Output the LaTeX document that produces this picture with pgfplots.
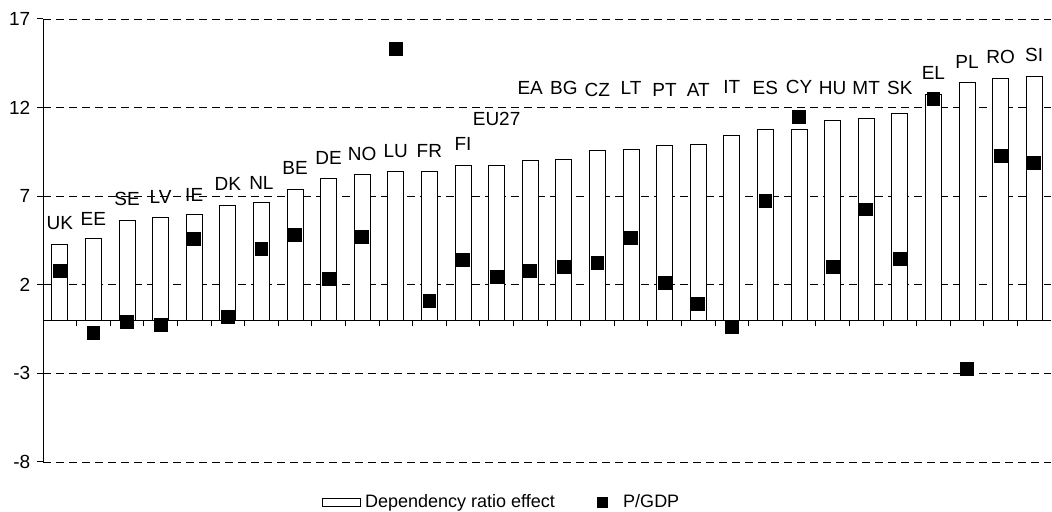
\documentclass[border=0pt]{standalone}
\usepackage{pgfplots}
\usepackage{pgfplotstable}
\pgfplotsset{compat=1.18}
\usepackage{fontspec}
\setmainfont{Liberation Sans}
\pgfplotstableread{
x lab bar pgdp laby
0 UK 4.25 2.8 5.47
1 EE 4.6 -0.7 5.72
2 SE 5.62 -0.11 6.83
3 LV 5.79 -0.27 6.98
4 IE 5.96 4.6 7.07
5 DK 6.47 0.17 7.67
6 NL 6.66 4.04 7.77
7 BE 7.39 4.8 8.58
8 DE 7.99 2.35 9.14
9 NO 8.24 4.72 9.39
10 LU 8.39 15.31 9.57
11 FR 8.39 1.09 9.57
12 FI 8.75 3.39 9.93
13 EU27 8.75 2.43 11.36
14 EA 8.99 2.8 13.09
15 BG 9.06 3.02 13.09
16 CZ 9.57 3.25 13.0
17 LT 9.65 4.63 13.09
18 PT 9.85 2.12 13.0
19 AT 9.93 0.92 13.0
20 IT 10.42 -0.36 13.15
21 ES 10.78 6.75 13.09
22 CY 10.78 11.49 13.15
23 HU 11.30 3.02 13.1
24 MT 11.40 6.26 13.1
25 SK 11.68 3.46 13.1
26 EL 12.75 12.49 13.94
27 PL 13.41 -2.75 14.6
28 RO 13.63 9.29 14.84
29 SI 13.73 8.88 14.97
}\datatable
\begin{document}
\fontsize{9.5}{11}\selectfont
\begin{tikzpicture}
\useasboundingbox (-21.5pt,-25pt) rectangle (504.5pt,231pt);
\begin{axis}[
  at={(0pt,0pt)}, anchor=south west,
  scale only axis, width=504pt, height=221.5pt,
  xmin=-0.5, xmax=29.5, ymin=-8, ymax=17,
  axis y line*=left, axis x line*=middle,
  axis line style={-, black, line width=0.5pt},
  ytick={-8,-3,2,7,12,17},
  xtick={0.5,1.5,...,28.5}, xticklabels={},
  ymajorgrids,
  grid style={black, dash pattern=on 4pt off 2.5pt, line width=0.4pt},
  tick align=outside, major tick length=3pt,
  every tick/.style={black, line width=0.5pt},
  y tick label style={/pgf/number format/assume math mode=true, font=\fontsize{9.5}{11}\selectfont},
  clip=false,
  legend columns=2,
  legend style={at={(0.456,-0.0903)}, anchor=center, draw=none, fill=none,
    font=\fontsize{9}{11}\selectfont,
    /tikz/every even column/.append style={column sep=19pt}},
  legend cell align=left,
]
\addplot[ybar, bar width=8pt, draw=black, fill=white, line width=0.5pt,
  legend image code/.code={\draw[black,fill=white,line width=0.5pt] (0pt,-2pt) rectangle (19pt,2pt);}]
  table[x=x, y=bar] {\datatable};
\addlegendentry{Dependency ratio effect}
\addplot[only marks, mark=square*, mark size=3.2pt, black,
  legend image code/.code={\path[draw=none] (0pt,0pt) -- (11pt,0pt); \fill[black] (0pt,-2.5pt) rectangle (5pt,2.5pt);}]
  table[x=x, y=pgdp] {\datatable};
\addlegendentry{P/GDP}
\addplot[draw=none, mark=none, forget plot, nodes near coords, point meta=explicit symbolic,
  nodes near coords align={anchor=center},
  every node near coord/.append style={font=\fontsize{9.5}{11}\selectfont, inner sep=0pt}]
  table[x=x, y=laby, meta=lab] {\datatable};
\end{axis}
\end{tikzpicture}
\end{document}
